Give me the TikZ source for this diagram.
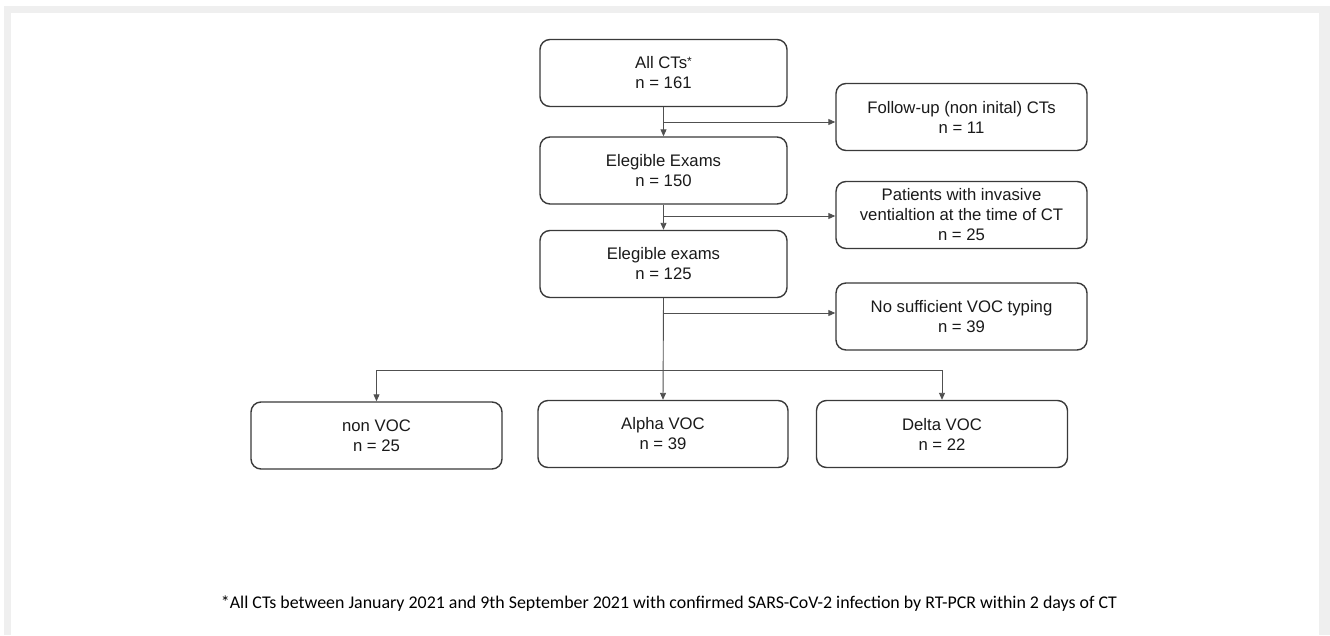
\documentclass[tikz,border=0pt]{standalone}
\usepackage{fontspec}
\setmainfont{Liberation Sans}
\newfontfamily\notefont{Carlito}
\usetikzlibrary{arrows.meta}
\definecolor{framegray}{HTML}{EFEFEF}
\definecolor{boxline}{HTML}{3A3A3A}
\definecolor{conline}{HTML}{505050}
\definecolor{txt}{HTML}{1A1A1A}
\tikzset{
  box/.style={draw=boxline, line width=1.4pt, rounded corners=10pt, align=center,
    font=\fontsize{16.7}{20}\selectfont, text=txt, inner sep=0pt},
  mainbox/.style={box, minimum width=247pt, minimum height=67pt},
  sidebox/.style={box, minimum width=251pt, minimum height=67pt},
  con/.style={draw=conline, line width=0.9pt},
  arr/.style={con, -{Triangle[length=7pt,width=6pt]}}
}
\begin{document}
\begin{tikzpicture}[x=1pt,y=-1pt]
\useasboundingbox (0,0) rectangle (1330,635);
\fill[framegray] (4,6) rectangle (1330,635);
\fill[white] (11,13) rectangle (1319,635);

\node[mainbox] (all) at (663.5,73) {All CTs\raisebox{0.35ex}{\fontsize{12}{12}\selectfont*}\\n = 161};
\node[sidebox] (follow) at (961.5,117) {Follow-up (non inital) CTs\\n = 11};
\node[mainbox] (ee150) at (663.5,170.5) {Elegible Exams\\n = 150};
\node[sidebox] (pat) at (961.5,215) {Patients with invasive\\ventialtion at the time of CT\\n = 25};
\node[mainbox] (ee125) at (663.5,264) {Elegible exams\\n = 125};
\node[sidebox] (nosuf) at (961.5,316.5) {No sufficient VOC typing\\n = 39};
\node[sidebox] (non) at (376.5,435.5) {non VOC\\n = 25};
\node[mainbox, minimum width=250pt] (alpha) at (663,434) {Alpha VOC\\n = 39};
\node[sidebox] (delta) at (942,434) {Delta VOC\\n = 22};

\coordinate (b1) at (663,122);
\coordinate (b2) at (663,216);
\coordinate (b3) at (663,313);
\coordinate (split) at (663,370);

\draw[arr] (all.south) -- (ee150.north);
\draw[arr] (b1) -- (b1 -| follow.west);
\draw[arr] (ee150.south) -- (ee125.north);
\draw[arr] (b2) -- (b2 -| pat.west);
\draw[arr] (ee125.south) -- (alpha.north);
\draw[arr] (b3) -- (b3 -| nosuf.west);
\draw[arr] (split) -- (split -| non.north) -- (non.north);
\draw[arr] (split) -- (split -| delta.north) -- (delta.north);

\node[inner sep=0pt, text=black] (note) at (669,604)
  {\resizebox{896pt}{!}{\notefont *All CTs between January 2021 and 9th September 2021 with confirmed SARS-CoV-2 infection by RT-PCR within 2 days of CT}};
\end{tikzpicture}
\end{document}
